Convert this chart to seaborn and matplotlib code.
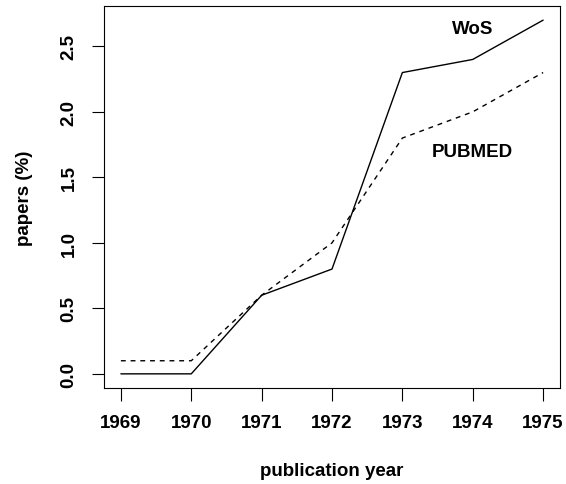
import pandas as pd
import seaborn as sns
import matplotlib.pyplot as plt

years = [1969, 1970, 1971, 1972, 1973, 1974, 1975]
wos = [0.0, 0.0, 0.6, 0.8, 2.3, 2.4, 2.7]
pubmed = [0.1, 0.1, 0.6, 1.0, 1.8, 2.0, 2.3]
y_ticks = [0.0, 0.5, 1.0, 1.5, 2.0, 2.5]


def build_df():
    df_w = pd.DataFrame({'year': years, 'papers': wos, 'source': 'WoS'})
    df_p = pd.DataFrame({'year': years, 'papers': pubmed, 'source': 'PUBMED'})
    return pd.concat([df_w, df_p]).reset_index(drop=True)


def plot_lines(df):
    sns.set_style("ticks")
    plt.rcParams['font.family'] = ['Liberation Sans', 'DejaVu Sans']
    plt.rcParams['font.weight'] = 'bold'
    # seaborn uses dark grey text by default, the reference is black
    for key in ['text.color', 'axes.labelcolor', 'xtick.color', 'ytick.color']:
        plt.rcParams[key] = 'black'
    fig = plt.figure(figsize=(5.66, 4.85), dpi=100)
    ax = fig.add_axes([104 / 566, 1 - 389 / 485, 456 / 566, 382 / 485])
    sns.lineplot(data=df, x='year', y='papers', style='source', color='black',
                 dashes={'WoS': '', 'PUBMED': (3.5, 3.5)}, linewidth=1, legend=False, ax=ax)

    ax.set_xlim(1969 - 0.24, 1975 + 0.24)
    ax.set_ylim(-0.108, 2.808)
    ax.set_xticks(years)
    ax.set_yticks(y_ticks)
    ax.set_yticklabels([f"{v:.1f}" for v in y_ticks], rotation=90, va='center')
    ax.tick_params(direction='out', length=9, width=0.8, color='black',
                   labelsize=13.5, pad=10)
    for s in ax.spines.values():
        s.set_visible(True)
        s.set_linewidth(0.8)
        s.set_color('black')

    ax.set_xlabel('publication year', fontsize=13.5, fontweight='bold', labelpad=22)
    ax.set_ylabel('papers (%)', fontsize=13.5, fontweight='bold', labelpad=20)
    ax.text(1974.0, 2.64, 'WoS', ha='center', va='center', fontsize=13.5, fontweight='bold')
    ax.text(1974.0, 1.70, 'PUBMED', ha='center', va='center', fontsize=13.5, fontweight='bold')
    return fig


def main():
    df = build_df()
    fig = plot_lines(df)
    fig.savefig('out.png', dpi=100)


if __name__ == "__main__":
    main()
